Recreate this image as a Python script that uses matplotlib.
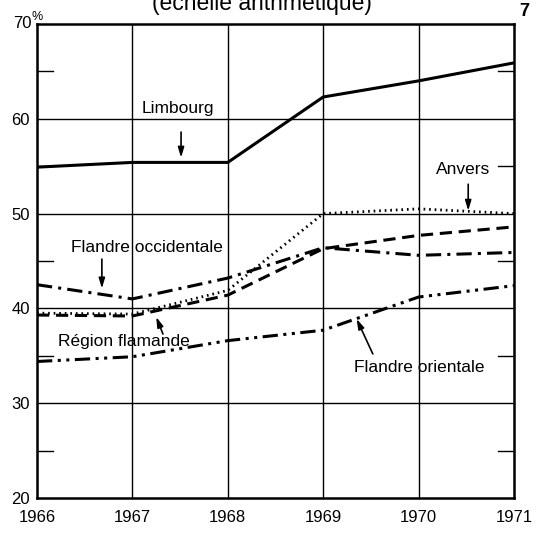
import matplotlib
matplotlib.use("Agg")
import matplotlib.pyplot as plt

plt.rcParams['font.family'] = ['Liberation Sans', 'DejaVu Sans']

years = [1966, 1967, 1968, 1969, 1970, 1971]
limbourg = [54.9, 55.4, 55.4, 62.3, 64.0, 65.9]
anvers = [39.5, 39.4, 41.9, 50.0, 50.5, 50.0]
region_flamande = [39.3, 39.2, 41.4, 46.3, 47.7, 48.6]
flandre_occ = [42.5, 41.0, 43.2, 46.4, 45.6, 45.9]
flandre_or = [34.4, 34.9, 36.6, 37.7, 41.2, 42.4]
yticks = [20, 30, 40, 50, 60]
minor_y = [25, 35, 45, 55, 65]

fig = plt.figure(figsize=(5.39, 5.34), dpi=100)
W, H = 539, 534
x0, x1, y0, y1 = 37, 514, 24, 498
ax = fig.add_axes([x0 / W, 1 - y1 / H, (x1 - x0) / W, (y1 - y0) / H])
ax.set_xlim(1966, 1971)
ax.set_ylim(20, 70)

for yr in years[1:-1]:
    ax.axvline(yr, color='black', lw=1.0, zorder=1)
for v in [30, 40, 50, 60]:
    ax.axhline(v, color='black', lw=1.0, zorder=1)
for v in minor_y:
    ax.plot([1966, 1966 + 5 * 16 / (x1 - x0)], [v, v], color='black', lw=1.0)
    ax.plot([1971 - 5 * 16 / (x1 - x0), 1971], [v, v], color='black', lw=1.0)

ax.plot(years, limbourg, color='black', lw=2.2, zorder=3)
ax.plot(years, anvers, color='black', lw=2.0, linestyle=(0, (0.6, 1.4)), zorder=3)
ax.plot(years, region_flamande, color='black', lw=2.2, linestyle=(0, (4, 2.2)), zorder=3)
ax.plot(years, flandre_occ, color='black', lw=2.2, linestyle=(0, (5, 2, 1, 2)), zorder=3)
ax.plot(years, flandre_or, color='black', lw=2.2, linestyle=(0, (5, 1.8, 1, 1.8, 1, 1.8)), zorder=3)

for s in ax.spines.values():
    s.set_linewidth(1.8)

ax.set_xticks(years)
ax.set_xticklabels([str(y) for y in years])
ax.set_yticks(yticks)
ax.set_yticklabels([str(v) for v in yticks])
ax.tick_params(length=0, labelsize=12)
ax.tick_params(axis='x', pad=9)
ax.tick_params(axis='y', pad=5)

# 70% label
ax.text(-0.012, 1.0, "70", transform=ax.transAxes, ha='right', va='center', fontsize=12)
ax.text(-0.011, 1.003, "%", transform=ax.transAxes, ha='left', va='bottom', fontsize=9)

fs = 12.5
arrowp = dict(arrowstyle='-|>,head_length=0.6,head_width=0.18', color='black', lw=1.2,
              shrinkA=0, shrinkB=0)
ax.text(1967.48, 61.1, "Limbourg", ha='center', va='center', fontsize=fs)
ax.annotate("", xy=(1967.51, 55.9), xytext=(1967.51, 58.6), arrowprops=arrowp)
ax.text(1970.47, 54.6, "Anvers", ha='center', va='center', fontsize=fs)
ax.annotate("", xy=(1970.52, 50.3), xytext=(1970.52, 53.1), arrowprops=arrowp)
ax.text(1967.15, 46.4, "Flandre occidentale", ha='center', va='center', fontsize=fs)
ax.annotate("", xy=(1966.68, 42.1), xytext=(1966.68, 45.2), arrowprops=arrowp)
ax.text(1966.91, 36.5, "Région flamande", ha='center', va='center', fontsize=fs)
ax.annotate("", xy=(1967.25, 39.1), xytext=(1967.32, 37.3), arrowprops=arrowp)
ax.text(1970.01, 33.8, "Flandre orientale", ha='center', va='center', fontsize=fs)
ax.annotate("", xy=(1969.35, 38.9), xytext=(1969.52, 35.2), arrowprops=arrowp)

fig.text(262 / W, 1 - 10 / H, "(échelle arithmétique)", ha='center', va='baseline', fontsize=16.5)
fig.text(524 / W, 1 - 12 / H, "7", ha='center', va='center', fontsize=13, fontweight='bold')

fig.savefig("out.png", dpi=100)
